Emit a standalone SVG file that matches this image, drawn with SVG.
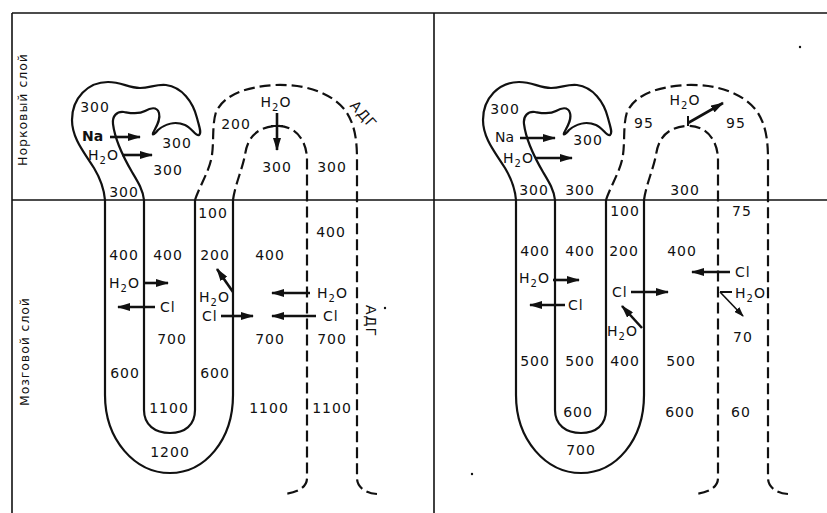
<svg xmlns="http://www.w3.org/2000/svg" width="827" height="513" viewBox="0 0 827 513">
<defs>
<style>
.frame{stroke:#111;stroke-width:1.6;fill:none}
.tub{stroke:#111;stroke-width:2.2;fill:none;stroke-linejoin:round}
.duct{stroke:#111;stroke-width:2.2;fill:none;stroke-dasharray:11 5}
.arr{stroke:#111;stroke-width:2.6;fill:none;marker-end:url(#ah)}
.thin{stroke:#111;stroke-width:1.6;fill:none;marker-end:url(#ahs)}
.tick{stroke:#111;stroke-width:2;fill:none}
.t{font-family:"DejaVu Sans","Liberation Sans",Arial,sans-serif;font-size:14px;letter-spacing:1px;fill:#111;text-anchor:middle}
.s{text-anchor:start}
.side{font-family:"DejaVu Sans","Liberation Sans",Arial,sans-serif;font-size:12.5px;fill:#111;text-anchor:middle}
.sub{font-size:10px}
</style>
<marker id="ah" markerUnits="userSpaceOnUse" markerWidth="13" markerHeight="8" refX="12" refY="4" orient="auto">
<path d="M0,0 L13,4 L0,8 Z" fill="#111"/>
</marker>
<marker id="ahs" markerUnits="userSpaceOnUse" markerWidth="10" markerHeight="7" refX="9" refY="3.5" orient="auto">
<path d="M0,0 L10,3.5 L0,7 Z" fill="#111"/>
</marker>
<g id="tubule">
<path class="tub" d="M105,200 C104,188 100,178 94,168 C84,152 72,138 72,120 C72,98 88,82 108,82 C122,82 128,88 140,88 C150,88 156,84 166,85 C182,87 193,102 197,118 C199,126 202,133 199,135 C196,137 192,128 185,125 C175,121 165,124 158,130 C155,134 152,136 153,133 C156,127 161,120 159,113 C157,106 150,108 145,111 C138,115 130,113 124,112 C117,111 112,116 113,124 C115,140 125,160 132,172 C138,182 143,190 144,200"/>
<path class="tub" d="M105,200 L105,395 C105,440 135,473 170,473 C205,473 233,440 233,395 L233,200"/>
<path class="tub" d="M144,200 L144,410 C144,425 155,433 170,433 C185,433 195,425 195,410 L195,200"/>
<path class="duct" d="M195,200 C200,185 210,170 212,155 C214,140 212,125 216,112 C224,95 245,87 275,85 C305,84 330,92 345,110 C355,124 357,140 357,160 L357,478 C357,487 365,493 377,494"/>
<path class="duct" d="M233,200 C235,185 242,170 245,155 C247,140 255,127 276,126 C295,125 307,140 307,160 L307,478 C307,487 298,493 283,494"/>
</g>
</defs>

<g id="frame">
<line class="frame" x1="12" y1="13" x2="827" y2="13"/>
<line class="frame" x1="12" y1="13" x2="12" y2="513"/>
<line class="frame" x1="434" y1="13" x2="434" y2="513"/>
<line class="frame" x1="12" y1="200" x2="827" y2="200"/>
<text class="side" transform="translate(27,110) rotate(-90)" textLength="112" lengthAdjust="spacing">Норковый слой</text>
<text class="side" transform="translate(29,352) rotate(-90)" textLength="108" lengthAdjust="spacing">Мозговой слой</text>
</g>

<g id="left-panel">
<use href="#tubule"/>
<g id="left-connectors">
<line class="arr" x1="110" y1="137" x2="140" y2="137"/>
<line class="arr" x1="122" y1="155" x2="152" y2="155"/>
<line class="arr" x1="277" y1="113" x2="277" y2="150"/>
<line class="tick" x1="271" y1="126" x2="283" y2="126"/>
<line class="arr" x1="143" y1="283" x2="168" y2="283"/>
<line class="arr" x1="155" y1="307" x2="118" y2="307"/>
<line class="arr" x1="233" y1="292" x2="217" y2="269"/>
<line class="arr" x1="221" y1="316" x2="253" y2="316"/>
<line class="arr" x1="310" y1="293" x2="272" y2="293"/>
<line class="arr" x1="316" y1="316" x2="272" y2="316"/>
</g>
<text class="t" x="95" y="112">300</text>
<text class="t s" x="82" y="141" font-weight="bold" style="letter-spacing:0">Na</text>
<text class="t s" x="88" y="160">H<tspan class="sub" dy="4">2</tspan><tspan dy="-4">O</tspan></text>
<text class="t" x="177" y="148">300</text>
<text class="t" x="168" y="175">300</text>
<text class="t" x="124" y="197">300</text>
<text class="t" x="236" y="129">200</text>
<text class="t" x="276" y="107">H<tspan class="sub" dy="4">2</tspan><tspan dy="-4">O</tspan></text>
<text class="t" x="277" y="172">300</text>
<text class="t" x="332" y="172">300</text>
<text class="t" transform="translate(360,118) rotate(48)">АДГ</text>
<text class="t" x="213" y="218">100</text>
<text class="t" x="331" y="237">400</text>
<text class="t" x="124" y="260">400</text>
<text class="t" x="168" y="260">400</text>
<text class="t" x="215" y="260">200</text>
<text class="t" x="270" y="260">400</text>
<text class="t s" x="109" y="288">H<tspan class="sub" dy="4">2</tspan><tspan dy="-4">O</tspan></text>
<text class="t s" x="160" y="312">Cl</text>
<text class="t s" x="199" y="302">H<tspan class="sub" dy="4">2</tspan><tspan dy="-4">O</tspan></text>
<text class="t s" x="202" y="321">Cl</text>
<text class="t s" x="317" y="298">H<tspan class="sub" dy="4">2</tspan><tspan dy="-4">O</tspan></text>
<text class="t s" x="323" y="321">Cl</text>
<text class="t" transform="translate(366,321) rotate(90)">АДГ</text>
<circle cx="385" cy="308" r="1.2" fill="#111"/>
<text class="t" x="172" y="344">700</text>
<text class="t" x="270" y="344">700</text>
<text class="t" x="332" y="344">700</text>
<text class="t" x="125" y="378">600</text>
<text class="t" x="215" y="378">600</text>
<text class="t" x="169" y="413">1100</text>
<text class="t" x="269" y="413">1100</text>
<text class="t" x="332" y="413">1100</text>
<text class="t" x="170" y="457">1200</text>
</g>

<g id="right-panel">
<use href="#tubule" transform="translate(411,0)"/>
<g id="right-connectors">
<line class="arr" x1="520" y1="138" x2="555" y2="138"/>
<line class="arr" x1="535" y1="158" x2="572" y2="158"/>
<line class="arr" x1="688" y1="123" x2="723" y2="103"/>
<line class="tick" x1="688" y1="116" x2="688" y2="126"/>
<line class="arr" x1="553" y1="280" x2="579" y2="280"/>
<line class="arr" x1="565" y1="305" x2="530" y2="305"/>
<line class="arr" x1="631" y1="292" x2="668" y2="292"/>
<line class="arr" x1="642" y1="328" x2="622" y2="306"/>
<line class="arr" x1="730" y1="272" x2="692" y2="272"/>
<line class="tick" x1="720" y1="292" x2="732" y2="292"/>
<line class="thin" x1="720" y1="292" x2="743" y2="316"/>
</g>
<text class="t" x="505" y="114">300</text>
<text class="t s" x="495" y="142" style="letter-spacing:0">Na</text>
<text class="t s" x="503" y="163">H<tspan class="sub" dy="4">2</tspan><tspan dy="-4">O</tspan></text>
<text class="t" x="588" y="145">300</text>
<text class="t" x="534" y="195">300</text>
<text class="t" x="580" y="195">300</text>
<text class="t" x="644" y="128">95</text>
<text class="t" x="685" y="105">H<tspan class="sub" dy="4">2</tspan><tspan dy="-4">O</tspan></text>
<text class="t" x="736" y="128">95</text>
<text class="t" x="685" y="195">300</text>
<circle cx="800" cy="47" r="1.2" fill="#111"/>
<text class="t" x="625" y="216">100</text>
<text class="t" x="742" y="216">75</text>
<text class="t" x="535" y="256">400</text>
<text class="t" x="580" y="256">400</text>
<text class="t" x="624" y="256">200</text>
<text class="t" x="682" y="256">400</text>
<text class="t s" x="519" y="283">H<tspan class="sub" dy="4">2</tspan><tspan dy="-4">O</tspan></text>
<text class="t s" x="568" y="310">Cl</text>
<text class="t s" x="612" y="297">Cl</text>
<text class="t s" x="607" y="336">H<tspan class="sub" dy="4">2</tspan><tspan dy="-4">O</tspan></text>
<text class="t s" x="735" y="277">Cl</text>
<text class="t s" x="735" y="298">H<tspan class="sub" dy="4">2</tspan><tspan dy="-4">O</tspan></text>
<text class="t" x="743" y="342">70</text>
<text class="t" x="535" y="366">500</text>
<text class="t" x="580" y="366">500</text>
<text class="t" x="625" y="366">400</text>
<text class="t" x="681" y="366">500</text>
<text class="t" x="578" y="417">600</text>
<text class="t" x="680" y="417">600</text>
<text class="t" x="741" y="417">60</text>
<text class="t" x="581" y="455">700</text>
<circle cx="472" cy="474" r="1.2" fill="#111"/>
</g>
</svg>
